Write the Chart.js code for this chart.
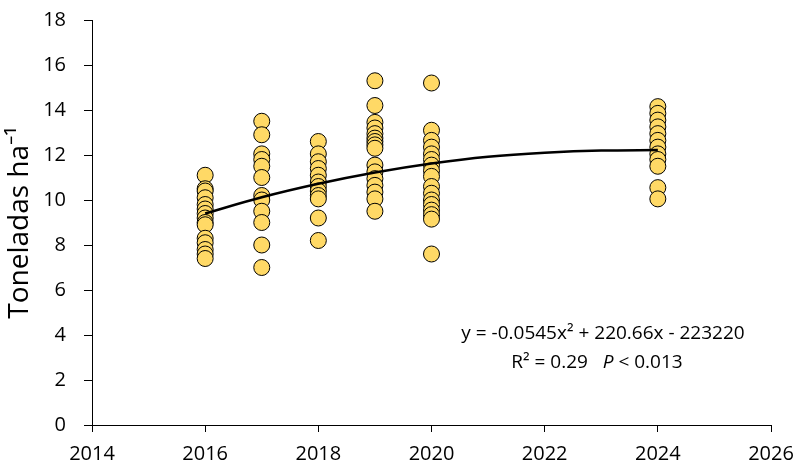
<!DOCTYPE html>
<html>
<head>
<meta charset="utf-8">
<script src="https://cdn.jsdelivr.net/npm/chart.js@4"></script>
<style>
  html, body { margin: 0; padding: 0; background: #fff; }
</style>
</head>
<body>
<canvas id="chart" width="797" height="464"></canvas>
<script>
// ── data ─────────────────────────────────────────────────
const years = [2016, 2017, 2018, 2019, 2020, 2024];
const yield2016 = [11.1, 10.5, 10.4, 10.1, 9.8, 9.6, 9.4, 9.2, 9.0, 8.9, 8.3, 8.1, 7.8, 7.6, 7.4];
const yield2017 = [13.5, 12.9, 12.05, 11.8, 11.5, 11.0, 10.2, 10.0, 9.5, 9.0, 8.0, 7.0];
const yield2018 = [12.6, 12.05, 11.7, 11.4, 11.1, 10.8, 10.6, 10.4, 10.2, 10.05, 9.2, 8.2];
const yield2019 = [15.3, 14.2, 13.45, 13.2, 12.95, 12.75, 12.6, 12.45, 12.3, 11.55, 11.25, 10.95, 10.65, 10.35, 10.05, 9.5];
const yield2020 = [15.2, 13.1, 12.65, 12.35, 12.05, 11.8, 11.55, 11.3, 11.05, 10.6, 10.3, 10.0, 9.8, 9.55, 9.35, 9.15, 7.6];
const yield2024 = [14.15, 13.85, 13.55, 13.25, 12.95, 12.65, 12.35, 12.05, 11.8, 11.5, 10.55, 10.05];
const yieldByYear = [yield2016, yield2017, yield2018, yield2019, yield2020, yield2024];

// fitted curve, read at each year along the drawn line
const trendYears = [2016, 2017, 2018, 2019, 2020, 2021, 2022, 2023, 2024];
const trendValues = [9.4, 10.12, 10.72, 11.22, 11.62, 11.92, 12.1, 12.2, 12.22];

const xTicks = [2014, 2016, 2018, 2020, 2022, 2024, 2026];
const yTicks = [0, 2, 4, 6, 8, 10, 12, 14, 16, 18];

const equationLine = "y = -0.0545x\u00B2 + 220.66x - 223220";

// ── chart ────────────────────────────────────────────────
const FONT = "'Open Sans', 'Liberation Sans', sans-serif";

const points = [];
years.forEach((yr, i) => yieldByYear[i].forEach((v) => points.push({ x: yr, y: v })));

const annotationPlugin = {
  id: "equation",
  afterDraw(chart) {
    const ctx = chart.ctx;
    ctx.save();
    ctx.fillStyle = "#000";
    ctx.textBaseline = "middle";
    ctx.font = `19px ${FONT}`;
    ctx.textAlign = "center";
    ctx.fillText(equationLine, 603, 334);

    // second line: R² = 0.29  P < 0.013 (P in italics)
    const a = "R\u00B2 = 0.29   ";
    const b = "P";
    const c = " < 0.013";
    ctx.textAlign = "left";
    ctx.font = `19px ${FONT}`;
    const wa = ctx.measureText(a).width;
    const wc = ctx.measureText(c).width;
    ctx.font = `italic 19px ${FONT}`;
    const wb = ctx.measureText(b).width;
    let x = 597 - (wa + wb + wc) / 2;
    ctx.font = `19px ${FONT}`;
    ctx.fillText(a, x, 363);
    x += wa;
    ctx.font = `italic 19px ${FONT}`;
    ctx.fillText(b, x, 363);
    x += wb;
    ctx.font = `19px ${FONT}`;
    ctx.fillText(c, x, 363);
    ctx.restore();
  },
};

new Chart(document.getElementById("chart"), {
  type: "scatter",
  data: {
    datasets: [
      {
        type: "line",
        label: "trend",
        data: trendYears.map((yr, i) => ({ x: yr, y: trendValues[i] })),
        borderColor: "#000",
        borderWidth: 2.5,
        pointRadius: 0,
        cubicInterpolationMode: "monotone",
        fill: false,
        order: 0,
      },
      {
        label: "Toneladas",
        data: points,
        backgroundColor: "#FFD966",
        borderColor: "#000",
        borderWidth: 1,
        pointRadius: 8,
        order: 1,
      },
    ],
  },
  options: {
    responsive: false,
    animation: false,
    layout: { padding: { top: 20, right: 26, left: 0, bottom: 0 } },
    plugins: { legend: { display: false }, tooltip: { enabled: false } },
    scales: {
      x: {
        type: "linear",
        min: 2014,
        max: 2026,
        afterBuildTicks: (scale) => { scale.ticks = xTicks.map((v) => ({ value: v })); },
        afterFit: (scale) => {
          scale.height = 39;
          scale.paddingLeft = 0;
          scale.paddingRight = 0;
        },
        grid: { drawOnChartArea: false, drawTicks: true, tickLength: 7, color: "#000" },
        border: { display: true, color: "#000", width: 1 },
        ticks: {
          color: "#000",
          padding: 10,
          font: { family: FONT, size: 20 },
          callback: (v) => String(v),
        },
      },
      y: {
        min: 0,
        max: 18,
        afterBuildTicks: (scale) => { scale.ticks = yTicks.map((v) => ({ value: v })); },
        afterFit: (scale) => {
          scale.width = 92;
          scale.paddingTop = 0;
          scale.paddingBottom = 0;
        },
        grid: { drawOnChartArea: false, drawTicks: true, tickLength: 8, color: "#000" },
        border: { display: true, color: "#000", width: 1 },
        ticks: {
          color: "#000",
          padding: 18,
          font: { family: FONT, size: 20 },
        },
        title: {
          display: true,
          text: "Toneladas ha\u207B\u00B9",
          color: "#000",
          font: { family: FONT, size: 28 },
          padding: { top: 3, bottom: 0 },
        },
      },
    },
  },
  plugins: [annotationPlugin],
});
</script>
</body>
</html>
